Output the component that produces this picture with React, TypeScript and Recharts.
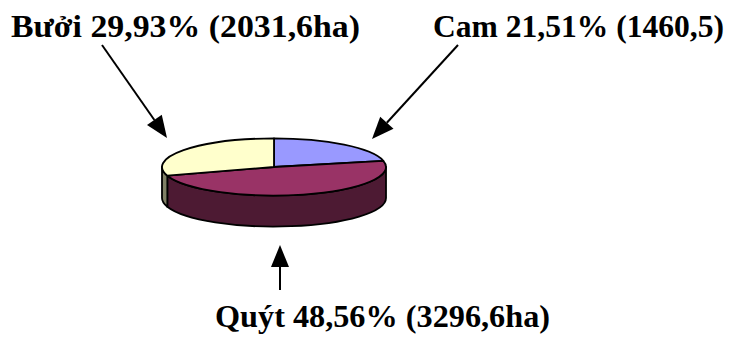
import React from 'react';
import { PieChart, Pie, Cell } from 'recharts';

const CATEGORIES = ['Cam', 'Quýt', 'Bưởi'];
const AREAS = [1460.5, 3296.6, 2031.6];
const PERCENT_LABELS = ['21,51%', '48,56%', '29,93%'];
const AREA_LABELS = ['(1460,5)', '(3296,6ha)', '(2031,6ha)'];

const COLORS = ['#9999FF', '#993366', '#FFFFCC'];
const SIDE_COLORS = ['#4D4D80', '#4D1A33', '#808066'];

const data = CATEGORIES.map((name, i) => ({ name, value: AREAS[i] }));

const TILT = 0.255; // ry / rx of the flattened disc
const DEPTH = 31; // thickness of the disc
const RAD = Math.PI / 180;

// text left / baseline / width, arrow start, arrow tip
const LABEL_LAYOUT = [
  { tx: 433, ty: 37, w: 291, from: [458, 45], to: [372, 139] },
  { tx: 215, ty: 327, w: 335, from: [280, 290], to: [280, 245] },
  { tx: 11, ty: 37, w: 349, from: [102, 45], to: [167, 138] },
];

const pt = (cx: number, cy: number, rx: number, a: number, dy = 0) =>
  `${cx + rx * Math.cos(a * RAD)},${cy - rx * TILT * Math.sin(a * RAD) + dy}`;

// parts of [lo, hi] that face the viewer (lower half of the ellipse)
const frontRanges = (s: number, e: number) => {
  const hi = Math.max(s, e);
  const lo = Math.min(s, e);
  const out: [number, number][] = [];
  for (let k = -2; k <= 1; k++) {
    const a = Math.min(hi, 360 * k);
    const b = Math.max(lo, -180 + 360 * k);
    if (a > b) out.push([a, b]);
  }
  return out;
};

const Sector3D = (props: any) => {
  const { cx, cy, outerRadius: rx, startAngle: s, endAngle: e, index } = props;
  const ry = rx * TILT;
  const large = Math.abs(s - e) > 180 ? 1 : 0;
  const sweep = s > e ? 1 : 0;
  const top = `M${cx},${cy} L${pt(cx, cy, rx, s)} A${rx},${ry} 0 ${large} ${sweep} ${pt(cx, cy, rx, e)} Z`;
  return (
    <g>
      {frontRanges(s, e).map(([a, b], j) => (
        <path
          key={j}
          d={`M${pt(cx, cy, rx, a)} A${rx},${ry} 0 0 1 ${pt(cx, cy, rx, b)} L${pt(cx, cy, rx, b, DEPTH)} A${rx},${ry} 0 0 0 ${pt(cx, cy, rx, a, DEPTH)} Z`}
          fill={SIDE_COLORS[index]}
          stroke="#000"
          strokeWidth={1.8}
          strokeLinejoin="round"
        />
      ))}
      <path d={top} fill={COLORS[index]} stroke="#000" strokeWidth={1.8} strokeLinejoin="round" />
    </g>
  );
};

const renderLabel = (props: any) => {
  const { index } = props;
  const l = LABEL_LAYOUT[index];
  const [x1, y1] = l.from;
  const [x2, y2] = l.to;
  const len = Math.hypot(x2 - x1, y2 - y1);
  const ux = (x2 - x1) / len;
  const uy = (y2 - y1) / len;
  const bx = x2 - ux * 22;
  const by = y2 - uy * 22;
  const head = `${x2},${y2} ${bx - uy * 9},${by + ux * 9} ${bx + uy * 9},${by - ux * 9}`;
  return (
    <g key={`lbl-${index}`}>
      <line x1={x1} y1={y1} x2={bx} y2={by} stroke="#000" strokeWidth={2} />
      <polygon points={head} fill="#000" />
      <text
        x={l.tx}
        y={l.ty}
        textAnchor="start"
        textLength={l.w}
        lengthAdjust="spacingAndGlyphs"
        fontFamily="'Liberation Serif', 'Times New Roman', serif"
        fontWeight={700}
        fontSize={32}
        fill="#000"
      >
        {`${CATEGORIES[index]} ${PERCENT_LABELS[index]} ${AREA_LABELS[index]}`}
      </text>
    </g>
  );
};

export default function App() {
  return (
    <div style={{ position: 'absolute', left: 0, top: 0, width: 729, height: 339, background: '#fff' }}>
      <PieChart width={729} height={339} margin={{ top: 0, right: 0, bottom: 0, left: 0 }}>
        <Pie
          data={data}
          dataKey="value"
          nameKey="name"
          cx={274}
          cy={167}
          outerRadius={112}
          startAngle={90}
          endAngle={-270}
          shape={Sector3D}
          label={renderLabel}
          labelLine={false}
          isAnimationActive={false}
        >
          {data.map((d, i) => (
            <Cell key={d.name} fill={COLORS[i]} />
          ))}
        </Pie>
      </PieChart>
    </div>
  );
}
